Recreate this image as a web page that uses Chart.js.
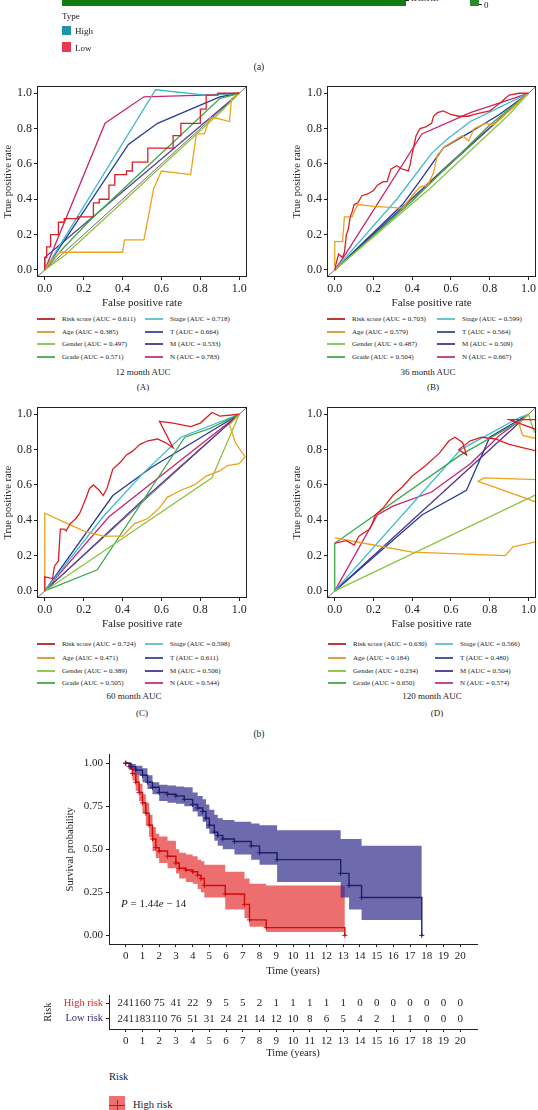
<!DOCTYPE html>
<html><head><meta charset="utf-8">
<script src="https://cdn.jsdelivr.net/npm/chart.js@4.4.1/dist/chart.umd.min.js"></script>
<style>
html,body{margin:0;padding:0;background:#fff;width:538px;height:1110px;overflow:hidden;}
body{position:relative;font-family:"Liberation Serif","Times New Roman",serif;color:#222;}
canvas{position:absolute;}
.t{position:absolute;white-space:nowrap;line-height:1;}
.c{transform:translate(-50%,-50%);}
.l{transform:translateY(-50%);}
.lg{position:absolute;}
</style></head><body>
<canvas id="heat" width="344" height="6" style="left:62px;top:0px"></canvas>
<canvas id="rocA" width="250" height="233" style="left:0px;top:77px"></canvas>
<canvas id="rocB" width="249" height="233" style="left:289px;top:77px"></canvas>
<canvas id="rocC" width="250" height="233" style="left:0px;top:398px"></canvas>
<canvas id="rocD" width="249" height="233" style="left:289px;top:398px"></canvas>
<canvas id="km" width="420" height="235" style="left:62px;top:745px"></canvas>
<canvas id="risk" width="442" height="74" style="left:40px;top:986px"></canvas>
<div id="txt"></div>
<script>
// ---------- DATA ----------
const heatGenes = ['IKBKB'];
const heatSpan = [[0, 1]];

const seriesNames = ['Risk score','Age','Gender','Grade','Stage','T','M','N'];
const auc12  = [0.611,0.385,0.497,0.571,0.718,0.664,0.533,0.783];
const auc36  = [0.703,0.579,0.487,0.504,0.599,0.564,0.509,0.667];
const auc60  = [0.724,0.471,0.389,0.505,0.598,0.611,0.506,0.544];
const auc120 = [0.630,0.184,0.234,0.650,0.566,0.480,0.504,0.574];
const rocTicks = [0,0.2,0.4,0.6,0.8,1.0];

// 12 month
const m12_risk = [[0,0],[0,0.07],[0.01,0.07],[0.01,0.13],[0.03,0.13],[0.03,0.2],[0.07,0.2],[0.07,0.27],[0.1,0.27],[0.1,0.29],[0.17,0.29],[0.17,0.3],[0.25,0.3],[0.25,0.38],[0.28,0.38],[0.28,0.4],[0.33,0.4],[0.33,0.48],[0.36,0.48],[0.36,0.54],[0.42,0.54],[0.42,0.56],[0.45,0.56],[0.45,0.61],[0.53,0.61],[0.53,0.69],[0.66,0.69],[0.66,0.76],[0.7,0.76],[0.7,0.83],[0.8,0.83],[0.8,0.91],[0.83,0.91],[0.83,0.99],[0.89,0.99],[0.89,1.0],[1,1]];
const m12_age = [[0,0],[0.03,0.05],[0.08,0.1],[0.4,0.1],[0.41,0.17],[0.51,0.17],[0.56,0.46],[0.6,0.56],[0.75,0.54],[0.78,0.77],[0.82,0.77],[0.85,0.86],[0.88,0.86],[0.95,0.84],[0.96,0.97],[1,1]];
const m12_gender = [[0,0],[0.1,0.08],[0.9,0.89],[1,1]];
const m12_grade = [[0,0],[0.1,0.13],[0.25,0.3],[0.9,0.97],[1,1]];
const m12_stage = [[0,0],[0.57,1.02],[0.83,0.99],[1,1]];
const m12_T = [[0,0],[0.43,0.71],[0.58,0.83],[0.9,0.98],[1,1]];
const m12_M = [[0,0],[0,0.07],[1,1]];
const m12_N = [[0,0],[0.31,0.83],[0.51,0.98],[0.82,0.99],[1,1]];

// 36 month
const m36_risk = [[0,0],[0.01,0.05],[0.02,0.09],[0.04,0.07],[0.05,0.1],[0.06,0.2],[0.07,0.23],[0.08,0.3],[0.09,0.33],[0.1,0.37],[0.12,0.38],[0.14,0.42],[0.17,0.43],[0.2,0.45],[0.22,0.48],[0.25,0.5],[0.27,0.5],[0.29,0.57],[0.32,0.59],[0.35,0.57],[0.38,0.56],[0.39,0.6],[0.4,0.66],[0.41,0.71],[0.42,0.76],[0.44,0.8],[0.47,0.81],[0.5,0.83],[0.51,0.87],[0.53,0.89],[0.56,0.9],[0.6,0.88],[0.64,0.87],[0.69,0.87],[0.72,0.88],[0.76,0.89],[0.8,0.9],[0.86,0.95],[0.9,0.99],[0.95,1.0],[1,1]];
const m36_age = [[0,0.02],[0,0.16],[0.04,0.16],[0.05,0.3],[0.09,0.3],[0.1,0.33],[0.12,0.37],[0.2,0.36],[0.35,0.35],[0.4,0.42],[0.44,0.47],[0.48,0.48],[0.51,0.55],[0.53,0.65],[0.57,0.7],[0.66,0.76],[0.69,0.73],[0.72,0.8],[0.78,0.83],[0.82,0.82],[0.9,0.9],[0.95,0.95],[1,1]];
const m36_gender = [[0,0],[0.5,0.47],[0.9,0.88],[1,1]];
const m36_grade = [[0,0],[0.4,0.39],[0.8,0.82],[1,1]];
const m36_stage = [[0,0],[0.32,0.4],[0.5,0.66],[0.58,0.74],[0.7,0.84],[0.85,0.92],[1,1]];
const m36_T = [[0,0],[0.35,0.37],[0.45,0.52],[0.56,0.69],[0.7,0.78],[0.85,0.88],[1,1]];
const m36_M = [[0,0],[0.6,0.61],[1,1]];
const m36_N = [[0,0],[0.05,0.08],[0.45,0.77],[0.7,0.89],[1,1]];

// 60 month
const m60_risk = [[0,0],[0,0.08],[0.04,0.07],[0.05,0.14],[0.07,0.17],[0.08,0.35],[0.1,0.35],[0.11,0.34],[0.13,0.38],[0.16,0.41],[0.18,0.44],[0.21,0.52],[0.23,0.58],[0.25,0.6],[0.28,0.57],[0.3,0.54],[0.32,0.58],[0.35,0.69],[0.39,0.73],[0.42,0.77],[0.45,0.79],[0.49,0.83],[0.53,0.85],[0.58,0.86],[0.62,0.84],[0.66,0.81],[0.59,0.96],[0.66,0.95],[0.75,0.93],[0.8,0.95],[0.86,1.01],[0.9,0.99],[1,1]];
const m60_age = [[0,0],[0,0.44],[0.1,0.39],[0.2,0.34],[0.3,0.31],[0.4,0.31],[0.46,0.38],[0.53,0.41],[0.59,0.47],[0.63,0.53],[0.7,0.57],[0.77,0.6],[0.83,0.65],[0.9,0.68],[0.94,0.71],[1.0,0.72],[1.03,0.76],[0.98,0.84],[0.95,0.94],[1,1]];
const m60_gender = [[0,0],[0.86,0.64],[1,1]];
const m60_grade = [[0,0],[0.27,0.12],[0.72,0.87],[0.85,0.92],[1,1]];
const m60_stage = [[0,0],[0.3,0.42],[0.5,0.66],[0.7,0.87],[1,1]];
const m60_T = [[0,0],[0.35,0.54],[0.55,0.7],[1,1]];
const m60_M = [[0,0],[0.5,0.51],[1,1]];
const m60_N = [[0,0],[0.33,0.42],[1,1]];

// 120 month
const m120_risk = [[0,0.27],[0.06,0.285],[0.1,0.26],[0.125,0.31],[0.18,0.35],[0.19,0.37],[0.21,0.43],[0.25,0.47],[0.3,0.54],[0.35,0.59],[0.4,0.65],[0.47,0.71],[0.54,0.78],[0.59,0.85],[0.62,0.87],[0.66,0.84],[0.68,0.77],[0.64,0.8],[0.7,0.85],[0.76,0.87],[0.83,0.86],[0.9,0.83],[1.05,0.79],[1.3,0.76],[1.3,0.9],[1.05,0.91],[0.9,0.97],[1.3,0.97]];
const m120_age = [[0,0.3],[0.2,0.26],[0.4,0.22],[0.88,0.2],[0.92,0.25],[1.05,0.28],[1.3,0.3],[1.3,0.62],[0.77,0.64],[0.74,0.62],[1.05,0.5],[1.3,0.45],[1.3,0.86],[1.05,0.86],[0.97,0.88],[0.95,0.95],[1,1]];
const m120_gender = [[0,0],[1.05,0.55],[1.3,0.68],[1.3,0.95],[1.03,0.9],[1.0,1.0]];
const m120_grade = [[0,0],[0,0.27],[0.65,0.77],[0.97,0.97],[1,1]];
const m120_stage = [[0,0],[0.65,0.8],[0.95,0.98],[1,1]];
const m120_T = [[0,0],[0.45,0.43],[0.68,0.57],[0.8,0.87],[1,1]];
const m120_M = [[0,0],[1,1]];
const m120_N = [[0,0],[0.22,0.43],[0.3,0.48],[0.5,0.56],[0.7,0.72],[0.85,0.88],[1,1]];

// Kaplan-Meier
const kmTicksX = [0,1,2,3,4,5,6,7,8,9,10,11,12,13,14,15,16,17,18,19,20];
const kmTicksY = [0,0.25,0.5,0.75,1];
const lowTime  = [0,0.3,0.6,1,1.3,1.6,2,2.5,3,3.5,4,4.3,4.6,4.8,5,5.3,5.5,5.8,6.5,7.5,8,9.05,12.85,13.35,14.1,17.7];
const lowSurv  = [1,0.98,0.96,0.93,0.89,0.86,0.83,0.82,0.81,0.79,0.76,0.74,0.72,0.68,0.64,0.6,0.58,0.56,0.545,0.52,0.48,0.44,0.36,0.29,0.22,0];
const lowUpper = [1,0.995,0.985,0.97,0.93,0.89,0.875,0.87,0.865,0.86,0.83,0.81,0.79,0.76,0.73,0.7,0.68,0.67,0.66,0.65,0.64,0.61,0.56,0.56,0.52,0.52];
const lowLower = [1,0.96,0.93,0.89,0.85,0.82,0.78,0.77,0.765,0.75,0.72,0.69,0.66,0.62,0.59,0.55,0.52,0.5,0.47,0.44,0.41,0.31,0.22,0.15,0.09,0.09];
const highTime  = [0,0.2,0.4,0.6,0.8,1,1.2,1.4,1.6,1.8,2,2.5,3,3.2,3.6,4,4.3,4.5,4.7,5.95,7.1,7.4,8.4,13.1];
const highSurv  = [1,0.98,0.94,0.89,0.83,0.77,0.71,0.64,0.56,0.51,0.49,0.46,0.42,0.39,0.38,0.37,0.35,0.33,0.29,0.24,0.18,0.09,0.045,0];
const highUpper = [1,1,0.97,0.93,0.88,0.82,0.77,0.7,0.63,0.59,0.575,0.55,0.5,0.48,0.47,0.46,0.44,0.43,0.41,0.37,0.33,0.3,0.29,0.29];
const highLower = [1,0.96,0.9,0.84,0.78,0.71,0.64,0.57,0.49,0.45,0.42,0.39,0.36,0.33,0.31,0.3,0.27,0.25,0.22,0.15,0.1,0.05,0.02,0.02];

// Number at risk
const riskGroups = ['Low risk','High risk'];
const highRiskN = [241,160,75,41,22,9,5,5,2,1,1,1,1,1,0,0,0,0,0,0,0];
const lowRiskN  = [241,183,110,76,51,31,24,21,14,12,10,8,6,5,4,2,1,1,0,0,0];

// ---------- STYLE ----------
const FONT = '"Liberation Serif","Times New Roman",serif';
const INK = '#222';
const seriesColors = ['#dc1f26','#eca21a','#8cc540','#3aaa48','#3dbad0','#263a98','#573d96','#c8246f'];
const legendColors = ['#b8383c','#e0a040','#8ec85a','#56b05e','#6cc6d2','#4a5aa8','#5a4a9a','#c8488a'];

Chart.defaults.font.family = FONT;
Chart.defaults.color = INK;
Chart.defaults.animation = false;

const framePlugin = {
  id: 'frame',
  afterDatasetsDraw(c, args, opts) {
    if (!opts || !opts.on) return;
    const a = c.chartArea, ctx = c.ctx;
    ctx.save();
    ctx.strokeStyle = INK; ctx.lineWidth = 1;
    ctx.strokeRect(Math.round(a.left) + 0.5, Math.round(a.top) + 0.5, Math.round(a.right - a.left) - 1, Math.round(a.bottom - a.top) - 1);
    ctx.restore();
  }
};
const riskTextPlugin = {
  id: 'riskText',
  afterDatasetsDraw(c, args, opts) {
    if (!opts || !opts.on) return;
    const ctx = c.ctx;
    ctx.save();
    ctx.font = '11px ' + FONT; ctx.fillStyle = INK;
    ctx.textAlign = 'center'; ctx.textBaseline = 'middle';
    c.data.datasets.forEach((ds, di) => {
      const meta = c.getDatasetMeta(di);
      meta.data.forEach((pt, j) => ctx.fillText(String(ds.data[j].n), pt.x, pt.y));
    });
    ctx.restore();
  }
};
Chart.register(framePlugin, riskTextPlugin);

// ---------- heatmap strip ----------
new Chart(document.getElementById('heat'), {
  type: 'bar',
  data: { labels: heatGenes, datasets: [{ data: heatSpan, backgroundColor: '#117c12', borderWidth: 0, barPercentage: 1, categoryPercentage: 1 }] },
  options: { indexAxis: 'y', responsive: false, devicePixelRatio: 1, layout: { padding: 0 },
    plugins: { legend: { display: false }, tooltip: { enabled: false } },
    scales: { x: { display: false, min: 0, max: 1 }, y: { display: false } } }
});

// ---------- ROC ----------
function rocChart(id, series, yw) {
  const datasets = series.map((pts, i) => ({
    label: seriesNames[i],
    data: pts.map(p => ({ x: p[0], y: p[1] })),
    borderColor: seriesColors[i], borderWidth: 1.3, pointRadius: 0, showLine: true, fill: false
  }));
  datasets.push({ label: 'ref', data: [{ x: -0.04, y: -0.04 }, { x: 1.04, y: 1.04 }], borderColor: '#444', borderWidth: 0.8, pointRadius: 0, showLine: true });
  const axisCommon = {
    type: 'linear', min: -0.04, max: 1.04,
    afterBuildTicks: s => { s.ticks = rocTicks.map(v => ({ value: v })); },
    grid: { drawOnChartArea: false, tickLength: 3, color: INK },
    border: { display: false },
  };
  new Chart(document.getElementById(id), {
    type: 'scatter',
    data: { datasets },
    options: {
      responsive: false, devicePixelRatio: 1,
      layout: { padding: { top: 4, right: id === 'rocB' || id === 'rocD' ? 1 : 3, left: 0, bottom: 0 } },
      plugins: { legend: { display: false }, tooltip: { enabled: false }, frame: { on: true } },
      scales: {
        x: Object.assign({}, axisCommon, {
          afterFit: s => { s.height = 33; },
          ticks: { autoSkip: false, maxRotation: 0, padding: 2, font: { size: 12 }, color: INK, callback: v => v.toFixed(1) },
          title: { display: true, text: 'False positive rate', font: { size: 11 }, color: INK, padding: { top: 0, bottom: 0 } }
        }),
        y: Object.assign({}, axisCommon, {
          afterFit: s => { s.width = yw; },
          ticks: { autoSkip: false, padding: 2, font: { size: 12 }, color: INK, callback: v => v.toFixed(1) },
          title: { display: true, text: 'True positive rate', font: { size: 10.5 }, color: INK, padding: { top: 2, bottom: 0 } }
        })
      }
    }
  });
}
rocChart('rocA', [m12_risk, m12_age, m12_gender, m12_grade, m12_stage, m12_T, m12_M, m12_N], 37);
rocChart('rocB', [m36_risk, m36_age, m36_gender, m36_grade, m36_stage, m36_T, m36_M, m36_N], 38);
rocChart('rocC', [m60_risk, m60_age, m60_gender, m60_grade, m60_stage, m60_T, m60_M, m60_N], 37);
rocChart('rocD', [m120_risk, m120_age, m120_gender, m120_grade, m120_stage, m120_T, m120_M, m120_N], 38);

// ---------- KM ----------
const toXY = (ts, vs) => ts.map((t, i) => ({ x: t, y: vs[i] }));
const kmAxisCommon = {
  grid: { drawOnChartArea: false, tickLength: 3, color: INK },
  border: { display: true, color: INK, width: 1 },
};
new Chart(document.getElementById('km'), {
  type: 'scatter',
  data: { datasets: [
    { label: 'Low risk', data: toXY(lowTime, lowSurv), showLine: true, stepped: 'before', borderColor: '#1d1f6e', borderWidth: 1.4,
      pointStyle: 'cross', pointRadius: 2.5, pointBorderWidth: 1, pointBorderColor: '#1d1f6e', fill: false },
    { label: 'High risk', data: toXY(highTime, highSurv), showLine: true, stepped: 'before', borderColor: '#d20a0a', borderWidth: 1.4,
      pointStyle: 'cross', pointRadius: 2.5, pointBorderWidth: 1, pointBorderColor: '#d20a0a', fill: false },
    { label: 'lowU', data: toXY(lowTime, lowUpper), showLine: true, stepped: 'before', borderWidth: 0, pointRadius: 0, fill: '+1', backgroundColor: 'rgba(40,35,135,0.68)' },
    { label: 'lowL', data: toXY(lowTime, lowLower), showLine: true, stepped: 'before', borderWidth: 0, pointRadius: 0, fill: false },
    { label: 'highU', data: toXY(highTime, highUpper), showLine: true, stepped: 'before', borderWidth: 0, pointRadius: 0, fill: '+1', backgroundColor: 'rgba(230,60,60,0.74)' },
    { label: 'highL', data: toXY(highTime, highLower), showLine: true, stepped: 'before', borderWidth: 0, pointRadius: 0, fill: false }
  ] },
  options: {
    responsive: false, devicePixelRatio: 1,
    layout: { padding: { top: 4, right: 5, left: 0, bottom: 0 } },
    plugins: { legend: { display: false }, tooltip: { enabled: false }, filler: { propagate: false } },
    scales: {
      x: Object.assign({}, kmAxisCommon, { type: 'linear', min: -1, max: 21,
        afterBuildTicks: s => { s.ticks = kmTicksX.map(v => ({ value: v })); },
        afterFit: s => { s.height = 36; },
        ticks: { autoSkip: false, maxRotation: 0, padding: 3, font: { size: 11 }, color: INK },
        title: { display: true, text: 'Time (years)', font: { size: 10.5 }, color: INK, padding: { top: 0, bottom: 2 } } }),
      y: Object.assign({}, kmAxisCommon, { type: 'linear', min: -0.05, max: 1.05,
        afterBuildTicks: s => { s.ticks = kmTicksY.map(v => ({ value: v })); },
        afterFit: s => { s.width = 47; },
        ticks: { autoSkip: false, padding: 3, font: { size: 11 }, color: INK, callback: v => v.toFixed(2) },
        title: { display: true, text: 'Survival probability', font: { size: 10.5 }, color: INK, padding: { top: 2, bottom: 0 } } })
    }
  }
});

// ---------- Risk table ----------
new Chart(document.getElementById('risk'), {
  type: 'scatter',
  data: { datasets: [
    { label: 'High risk', data: kmTicksX.map((t, j) => ({ x: t, y: 1, n: highRiskN[j] })), pointRadius: 0 },
    { label: 'Low risk', data: kmTicksX.map((t, j) => ({ x: t, y: 0, n: lowRiskN[j] })), pointRadius: 0 }
  ] },
  options: {
    responsive: false, devicePixelRatio: 1,
    layout: { padding: { top: 4, right: 5, left: 0, bottom: 0 } },
    plugins: { legend: { display: false }, tooltip: { enabled: false }, riskText: { on: true } },
    scales: {
      x: Object.assign({}, kmAxisCommon, { type: 'linear', min: -1, max: 21,
        afterBuildTicks: s => { s.ticks = kmTicksX.map(v => ({ value: v })); },
        afterFit: s => { s.height = 31; },
        ticks: { autoSkip: false, maxRotation: 0, padding: 3, font: { size: 11 }, color: INK },
        title: { display: true, text: 'Time (years)', font: { size: 10.5 }, color: INK, padding: { top: 0, bottom: 0 } } }),
      y: Object.assign({}, kmAxisCommon, { type: 'linear', min: -0.667, max: 1.5,
        afterBuildTicks: s => { s.ticks = [0, 1].map(v => ({ value: v })); },
        afterFit: s => { s.width = 69; },
        ticks: { autoSkip: false, padding: 3, font: { size: 10.5 }, callback: v => riskGroups[v],
          color: ctx => ctx.tick && ctx.tick.value === 1 ? '#e8262b' : '#2d2c70' },
        title: { display: true, text: 'Risk', font: { size: 10.5 }, color: INK, padding: { top: 2, bottom: 0 } } })
    }
  }
});

// ---------- HTML text / legends ----------
const txt = document.getElementById('txt');
function put(html, x, y, size, cls, extra) {
  const d = document.createElement('div');
  d.className = 't ' + cls;
  d.style.left = x + 'px'; d.style.top = y + 'px'; d.style.fontSize = size + 'px';
  if (extra) Object.assign(d.style, extra);
  d.innerHTML = html; txt.appendChild(d); return d;
}
function box(x, y, w, h, color) {
  const d = document.createElement('div');
  d.className = 'lg';
  Object.assign(d.style, { left: x + 'px', top: y + 'px', width: w + 'px', height: h + 'px', background: color });
  txt.appendChild(d); return d;
}
// panel (a) remnants
put('IKBKB', 411, -6, 9, '');
box(405, 0, 4, 1, INK);
box(470, 0, 9, 6, '#2c8c2c');
box(479, 4, 3, 1, INK);
put('0', 484, 5, 9, 'l');
put('Type', 62, 16, 9, 'l');
box(62, 26, 9, 9, '#1f93a8'); put('High', 75, 31, 9, 'l');
box(62, 42, 9, 10, '#e63a52'); put('Low', 75, 47.5, 9, 'l');
put('(a)', 259, 68, 9.5, 'c');

function rocLegend(x1, x2, ys, auc) {
  for (let i = 0; i < 8; i++) {
    const x = i < 4 ? x1 : x2, y = ys[i % 4];
    box(x, y - 0.6, 18, 1.3, legendColors[i]);
    put(seriesNames[i] + ' (AUC = ' + auc[i].toFixed(3) + ')', x + 25, y, 7, 'l');
  }
}
rocLegend(37, 145, [319, 332, 344, 357], auc12);
rocLegend(327, 437, [319, 332, 344, 357], auc36);
rocLegend(37, 145, [644, 658, 671, 683], auc60);
rocLegend(328, 435, [644, 658, 671, 683], auc120);
put('12 month AUC', 143, 372, 9, 'c'); put('(A)', 143, 387, 9, 'c');
put('36 month AUC', 428, 372, 9, 'c'); put('(B)', 433, 387, 9, 'c');
put('60 month AUC', 134, 696, 9, 'c'); put('(C)', 142, 713, 9, 'c');
put('120 month AUC', 432, 696, 9, 'c'); put('(D)', 437, 713, 9, 'c');
put('(b)', 259, 735, 9.5, 'c');
put('<i>P</i> = 1.44<i>e</i> − 14', 121, 903, 11, 'l');
// bottom legend
put('Risk', 109, 1077, 10.5, 'l');
box(109, 1096, 16, 16, '#ee7070');
box(109, 1104.5, 16, 1.4, '#d20a0a');
box(116.5, 1100, 1.4, 10, '#d20a0a');
put('High risk', 133, 1105, 10.5, 'l');
</script>
</body></html>
